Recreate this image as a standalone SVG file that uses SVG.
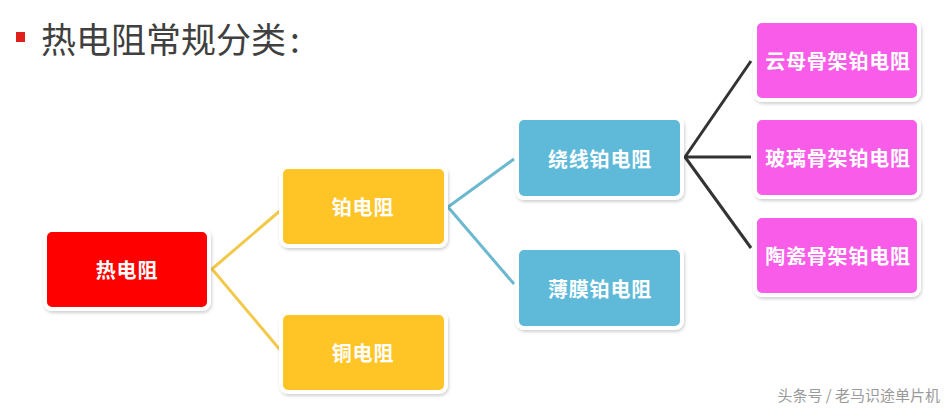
<svg xmlns="http://www.w3.org/2000/svg" width="949" height="410" viewBox="0 0 949 410">
<defs>
<filter id="sh" x="-10%" y="-10%" width="120%" height="130%">
<feDropShadow dx="1" dy="2" stdDeviation="1.5" flood-color="#000" flood-opacity="0.18"/>
</filter>
<style>
.box{stroke:#fff;stroke-width:4;filter:url(#sh)}
.red{fill:#FF0000}
.yel{fill:#FFC425}
.blu{fill:#5EBAD9}
.pnk{fill:#F95BE8}
.lbl{font-family:"Noto Sans CJK SC","Noto Sans",sans-serif;font-size:20px;font-weight:bold;fill:#fff;text-anchor:middle;dominant-baseline:central;letter-spacing:0.8px}
.ln{fill:none;stroke-width:3;stroke-linejoin:round}
</style>
</defs>
<rect width="949" height="410" fill="#fff"/>
<g id="title">
<rect x="16" y="32" width="9" height="10" fill="#E0201B"/>
<text x="41" y="53" font-family="Noto Sans CJK SC,sans-serif" font-size="35" fill="#404040">热电阻常规分类<tspan dx="4">:</tspan></text>
</g>
<g id="connectors">
<polyline class="ln" stroke="#F2C94A" points="281,210 212,269 281,351"/>
<polyline class="ln" stroke="#6BB8CF" points="514,159 448,207 514,284"/>
<polyline class="ln" stroke="#333333" points="751,61 685,157 751,157"/>
<polyline class="ln" stroke="#333333" points="685,157 751,248"/>
</g>
<g id="n1"><rect class="box red" x="45" y="230" width="164" height="79" rx="7"/><text class="lbl" x="127" y="269">热电阻</text></g>
<g id="n2"><rect class="box yel" x="281" y="167" width="165" height="79" rx="7"/><text class="lbl" x="363" y="206">铂电阻</text></g>
<g id="n3"><rect class="box yel" x="281" y="313" width="165" height="79" rx="7"/><text class="lbl" x="363" y="352">铜电阻</text></g>
<g id="n4"><rect class="box blu" x="517" y="118" width="165" height="80" rx="7"/><text class="lbl" x="600" y="158">绕线铂电阻</text></g>
<g id="n5"><rect class="box blu" x="517" y="248" width="165" height="80" rx="7"/><text class="lbl" x="600" y="288">薄膜铂电阻</text></g>
<g id="n6"><rect class="box pnk" x="755" y="21" width="164" height="79" rx="7"/><text class="lbl" x="838" y="60">云母骨架铂电阻</text></g>
<g id="n7"><rect class="box pnk" x="755" y="118" width="164" height="79" rx="7"/><text class="lbl" x="838" y="157">玻璃骨架铂电阻</text></g>
<g id="n8"><rect class="box pnk" x="755" y="216" width="164" height="79" rx="7"/><text class="lbl" x="838" y="255">陶瓷骨架铂电阻</text></g>
<text x="940" y="401" text-anchor="end" font-family="Noto Sans CJK SC,sans-serif" font-size="15" fill="#9a9a9a">头条号 / 老马识途单片机</text>
</svg>
